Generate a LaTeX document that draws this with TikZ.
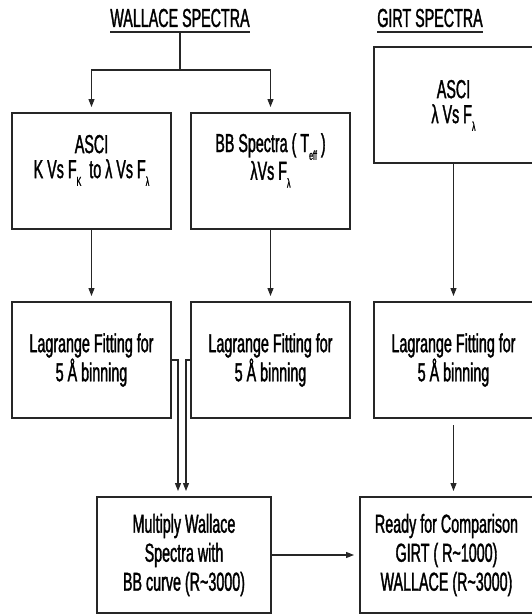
\documentclass[tikz,border=0pt]{standalone}
\usepackage{fontspec}
\setmainfont{Liberation Sans}[FakeStretch=0.55,FakeBold=1.3]
\usetikzlibrary{arrows.meta}
\newcommand\lsub[1]{\raisebox{-0.3em}{\fontsize{13}{13}\selectfont #1}}
\begin{document}
\begin{tikzpicture}[x=1pt,y=-1pt,
  box/.style={draw=black!85,line width=1.5pt,inner sep=0pt,outer sep=0pt,
    minimum width=159pt,minimum height=116pt,align=center,
    font=\fontsize{26}{25}\selectfont},
  ttl/.style={inner sep=0pt,font=\fontsize{26}{25}\selectfont},
  conn/.style={line width=1.1pt,draw=black!85},
  arr/.style={conn,-{Triangle[length=8pt,width=6pt]},shorten >=6pt}]
\useasboundingbox (0,0) rectangle (531,614);
% titles
\node[ttl] (wt) at (180,18) {WALLACE SPECTRA};
\draw[conn] ([yshift=-5pt]wt.base west) -- ([yshift=-5pt]wt.base east);
\node[ttl] (gt) at (430,18) {GIRT SPECTRA};
\draw[conn] ([yshift=-5pt]gt.base west) -- ([yshift=-5pt]gt.base east);
% boxes
\node[box] (a1) at (91.5,171) {ASCI\\K Vs F\lsub{K}\ \ to λ Vs F\lsub{λ}\\[4pt]};
\node[box] (a2) at (270.5,171) {BB Spectra ( T\lsub{eff} )\\λVs F\lsub{λ}\\[4pt]};
\node[box] (g1) at (453.5,105) {\\[-6pt]ASCI\\λ Vs F\lsub{λ}};
\node[box] (l1) at (91.5,360) {Lagrange Fitting for\\5 Å binning};
\node[box] (l2) at (270.5,360) {Lagrange Fitting for\\5 Å binning};
\node[box] (l3) at (453.5,360) {Lagrange Fitting for\\5 Å binning};
\node[box,minimum width=174pt] (m) at (184,555) {Multiply Wallace\\[4pt]Spectra with\\[4pt]BB curve (R\textasciitilde 3000)};
\node[box,minimum width=173pt] (r) at (446.5,555) {Ready for Comparison\\[4pt]GIRT ( R\textasciitilde 1000)\\[4pt]WALLACE (R\textasciitilde 3000)};
% connectors
\coordinate (j) at (180,70);
\draw[conn] ([yshift=-5pt]wt.base) -- (j);
\draw[arr] (j) -| (a1.north);
\draw[arr] (j) -| (a2.north);
\draw[arr] (a1) -- (l1);
\draw[arr] (a2) -- (l2);
\draw[arr] (g1) -- (l3);
\coordinate (c1) at (178,360);
\coordinate (c2) at (186,360);
\draw[arr] (l1.east) -- (c1) -- (c1 |- m.north);
\draw[arr] (l2.west) -- (c2) -- (c2 |- m.north);
\draw[arr] ([yshift=-7pt]l3.south) -- (l3.south |- r.north);
\draw[arr] (m) -- (r);
\end{tikzpicture}
\end{document}
